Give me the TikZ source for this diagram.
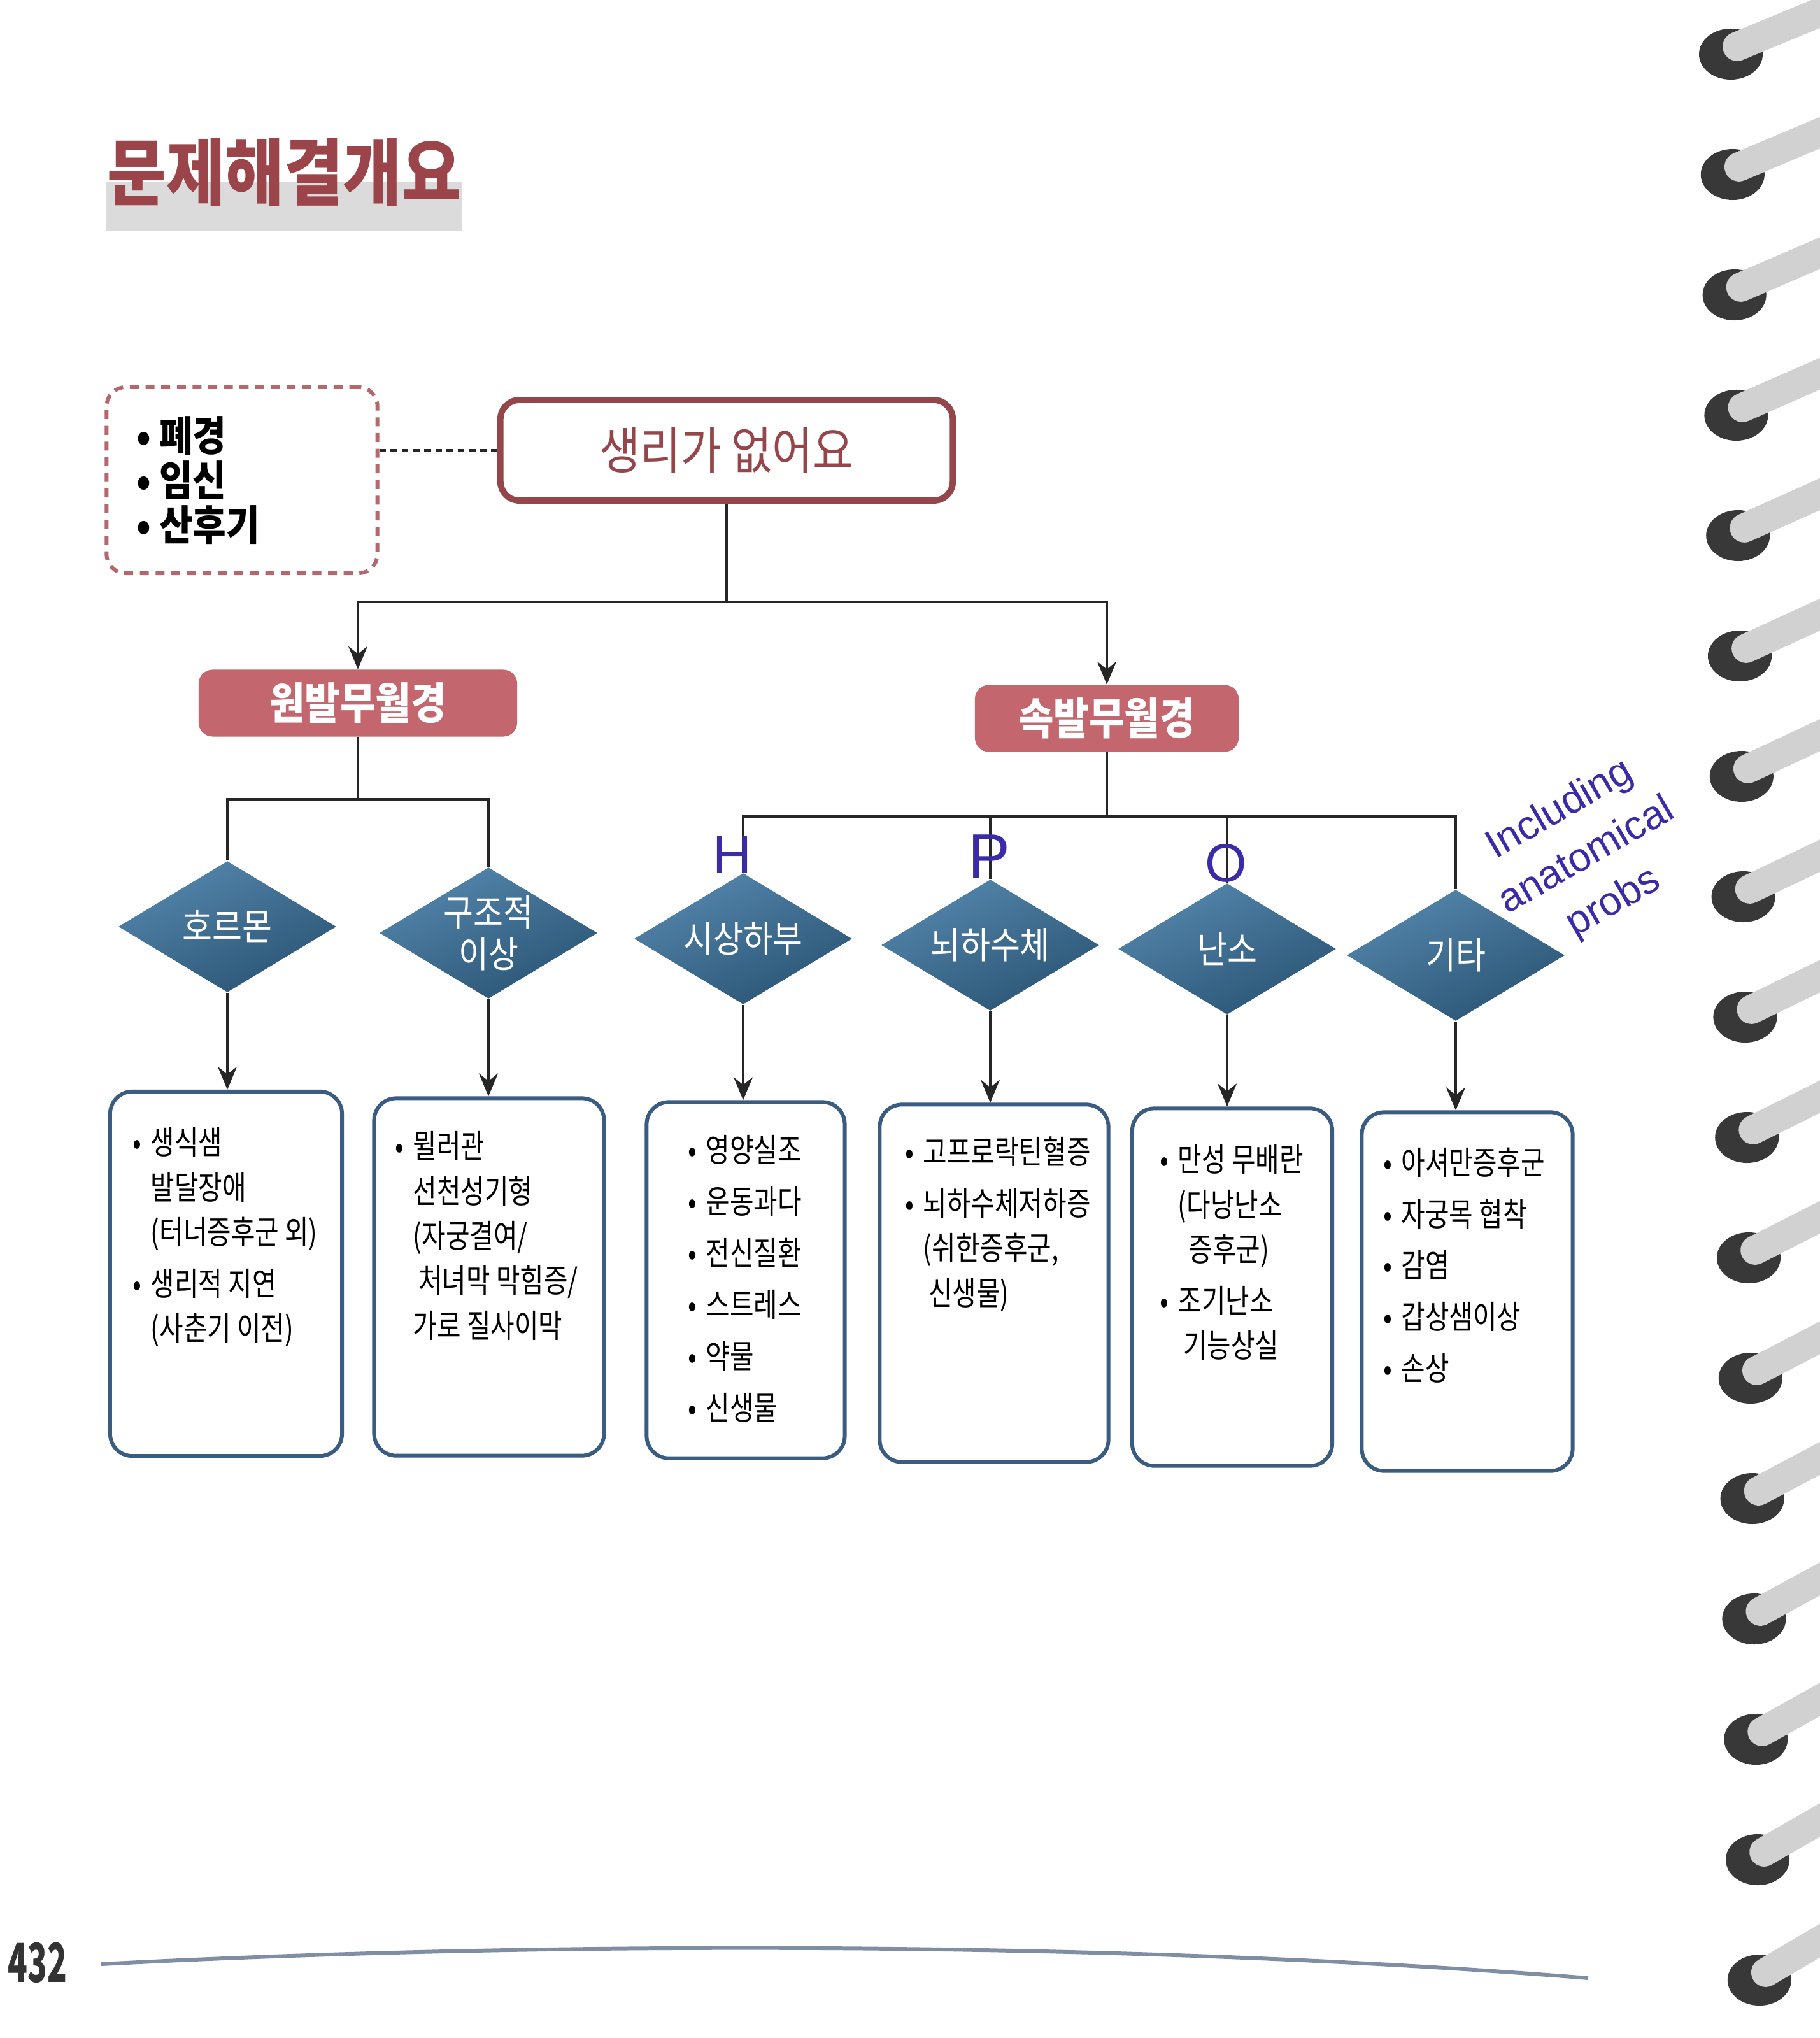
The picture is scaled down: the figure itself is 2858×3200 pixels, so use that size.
\documentclass[tikz,border=0pt]{standalone}
\usepackage{fontspec}
\setmainfont{Noto Sans CJK KR}[FakeStretch=0.8]
\newfontfamily\wide{Noto Sans CJK KR}[FakeStretch=0.88]
\newfontfamily\pgnum{Noto Sans CJK KR}[FakeStretch=0.6]
\newfontfamily\hand{Liberation Sans}
\usetikzlibrary{shapes.geometric,arrows.meta}
\definecolor{titlered}{RGB}{155,68,74}
\definecolor{mainred}{RGB}{148,70,74}
\definecolor{pillred}{RGB}{196,102,110}
\definecolor{dashred}{RGB}{178,104,108}
\definecolor{diaL}{RGB}{84,134,172}
\definecolor{diaD}{RGB}{42,84,116}
\definecolor{boxblue}{RGB}{58,92,128}
\definecolor{ink}{RGB}{58,44,168}
\definecolor{rulegray}{RGB}{128,142,164}
\newcommand{\bul}{\makebox[8pt][l]{•}}
\newcommand{\ind}{\hspace*{8pt}}
\newcommand{\nbul}{\makebox[10pt][l]{•}}
\begin{document}
\begin{tikzpicture}[x=0.01cm, y=-0.01cm,
  line/.style={line width=1pt, black!85},
  arr/.style={line, -{Stealth[length=0.36cm, width=0.3cm, inset=0.12cm]}},
  notebox/.style={draw=dashred, dash pattern=on 4pt off 3pt, line width=1.7pt, rounded corners=0.3cm, minimum width=4.25cm, minimum height=2.92cm, inner xsep=0.47cm, text width=3.3cm, align=left, font=\wide\bfseries\fontsize{18.5}{20}\selectfont},
  mainbox/.style={draw=mainred, line width=2.8pt, rounded corners=0.3cm, minimum width=7.1cm, minimum height=1.58cm, fill=white, text=mainred, font=\wide\fontsize{22.5}{24}\selectfont},
  pill/.style={rounded corners=0.22cm, fill=pillred, text=white, inner sep=0pt, minimum height=1.05cm, font=\wide\bfseries\fontsize{19.5}{20}\selectfont},
  dia/.style={diamond, minimum width=3.42cm, minimum height=2.06cm, inner sep=0pt, top color=diaL, bottom color=diaD, shading angle=25},
  dialbl/.style={text=white, align=center, font=\wide\fontsize{16.5}{18.5}\selectfont},
  box/.style={draw=boxblue, line width=1.7pt, rounded corners=0.35cm, inner sep=0pt},
  txt/.style={anchor=north west, align=left, inner sep=0pt, font=\fontsize{14.5}{20}\selectfont},
  handw/.style={text=ink, inner sep=0pt, font=\hand\fontsize{24}{26}\selectfont}]
\fill[white] (0,0) rectangle (2858,3200);
\useasboundingbox (0,0) rectangle (2858,3200);

% title
\fill[black!14] (167,285) rectangle (725,363);
\node[anchor=west, inner sep=0pt, text=titlered, font=\wide\bfseries\fontsize{32.5}{34}\selectfont] (title) at (168,271) {문제해결개요};

% top level
\node[notebox] (note) at (380,754) {\nbul 폐경\\ \nbul 임신\\ \nbul 산후기};
\node[mainbox] (main) at (1141,707) {생리가 없어요};
\draw[line, dash pattern=on 3pt off 2pt] (main.west -| note.east) -- (main.west);

\node[pill, minimum width=5cm] (prim) at (562,1104) {원발무월경};
\node[pill, minimum width=4.14cm] (sec) at (1738,1128) {속발무월경};
\coordinate (j0) at (1141,945);
\draw[line] (main.south) -- (j0);
\draw[arr] (j0) -| (prim.north);
\draw[arr] (j0) -| (sec.north);

% diamonds
\node[dia, label={[dialbl]center:호르몬}] (d1) at (357,1455) {};
\node[dia, label={[dialbl]center:{구조적\\이상}}] (d2) at (767,1465) {};
\node[dia, label={[dialbl]center:시상하부}] (d3) at (1167,1474) {};
\node[dia, label={[dialbl]center:뇌하수체}] (d4) at (1555,1484) {};
\node[dia, label={[dialbl]center:난소}] (d5) at (1927,1490) {};
\node[dia, label={[dialbl]center:기타}] (d6) at (2286,1500) {};
\coordinate (j1) at (562,1255);
\coordinate (j2) at (1738,1282);
\draw[line] (prim.south) -- (j1);
\draw[line] (d1.north) |- (j1) -| (d2.north);
\draw[line] (sec.south) -- (j2);
\draw[line] (d3.north) |- (j2) -| (d6.north);
\draw[line] (d4.north) -- (d4.north |- j2);
\draw[line] (d5.north) -- (d5.north |- j2);

% boxes
\node[box, minimum width=3.64cm, minimum height=5.72cm] (b1) at (355,2000) {};
\node[box, minimum width=3.61cm, minimum height=5.61cm] (b2) at (768,2005) {};
\node[box, minimum width=3.11cm, minimum height=5.59cm] (b3) at (1171,2010) {};
\node[box, minimum width=3.59cm, minimum height=5.61cm] (b4) at (1561,2015) {};
\node[box, minimum width=3.14cm, minimum height=5.61cm] (b5) at (1935,2021) {};
\node[box, minimum width=3.31cm, minimum height=5.63cm] (b6) at (2304,2028) {};
\foreach \i in {1,...,6}
  \draw[arr] (d\i.south) -- (d\i.south |- b\i.north);

\node[txt] (t1) at (208,1770) {\bul 생식샘\\ \ind 발달장애\\ \ind (터너증후군 외)\\[3pt] \bul 생리적 지연\\ \ind (사춘기 이전)};
\node[txt] (t2) at (620,1776) {\bul 뮐러관\\ \ind 선천성기형\\ \ind (자궁결여/\\ \ind\,처녀막 막힘증/\\ \ind 가로 질사이막};
\node[txt] (t3) at (1080,1782) {\bul 영양실조\\[3pt] \bul 운동과다\\[3pt] \bul 전신질환\\[3pt] \bul 스트레스\\[3pt] \bul 약물\\[3pt] \bul 신생물};
\node[txt] (t4) at (1421,1784) {\bul 고프로락틴혈증\\[3pt] \bul 뇌하수체저하증\\ \ind (쉬한증후군,\\ \ind\,신생물)};
\node[txt] (t5) at (1821,1797) {\bul 만성 무배란\\ \ind (다낭난소\\ \ind\,\,증후군)\\[3pt] \bul 조기난소\\ \ind\,기능상실};
\node[txt] (t6) at (2172,1801) {\bul 아셔만증후군\\[3pt] \bul 자궁목 협착\\[3pt] \bul 감염\\[3pt] \bul 갑상샘이상\\[3pt] \bul 손상};

% handwritten notes
\node[handw] (hH) at (1150,1342) {H};
\node[handw, font=\hand\fontsize{28}{30}\selectfont] (hP) at (1553,1345) {P};
\node[handw] (hO) at (1925,1355) {O};
\node[handw, rotate=30, align=center, font=\hand\fontsize{18}{24}\selectfont] (hInc) at (2492,1345) {Including\\anatomical\\probs};

% page foot
\node[anchor=west, inner sep=0pt, text=black!80, font=\pgnum\bfseries\fontsize{24}{26}\selectfont] (pg) at (12,3082) {432};
\draw[rulegray, line width=1.7pt] (159,3084) .. controls (900,3045) and (1800,3050) .. (2494,3106);

% spiral binding
\foreach \k in {0,...,16}{
  \pgfmathsetmacro\cy{85+189*\k}
  \pgfmathsetmacro\cx{2718+2.8*\k}
  \fill[black!78] (\cx,\cy) ellipse [x radius=0.5cm, y radius=0.4cm];
  \draw[black!18, line width=13pt, line cap=round] (\cx+10,\cy-12) -- (2880,\cy-75);
}
\end{tikzpicture}
\end{document}
